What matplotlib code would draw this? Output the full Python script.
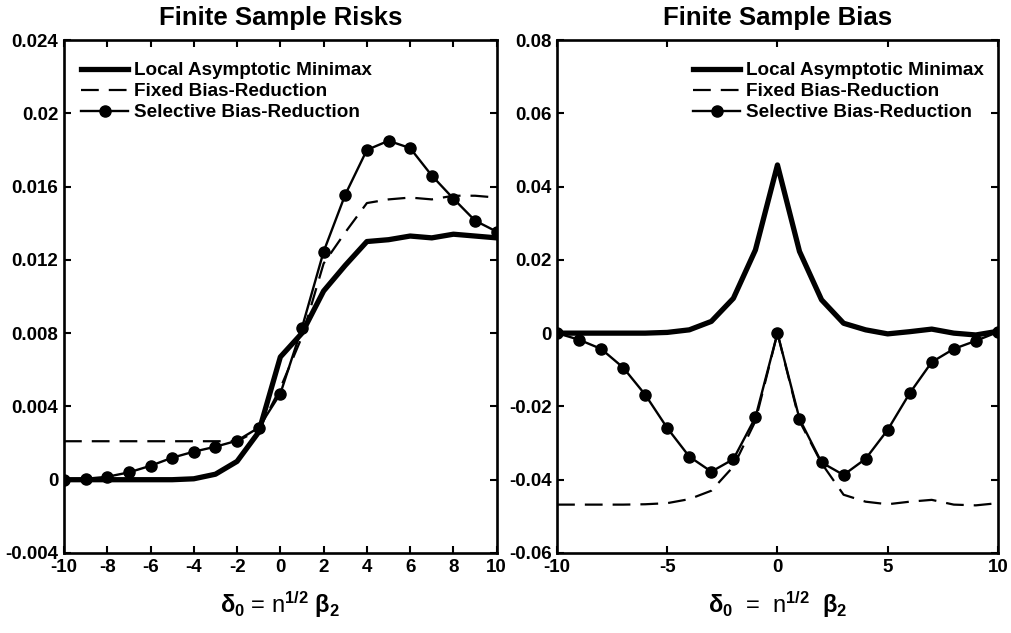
#!/bin/env python3
'''
Finite sample risks and bias of three estimators
'''

import numpy as np
import matplotlib
matplotlib.use("Agg")
import matplotlib.pyplot as plt

plt.rcParams['font.family'] = ['Liberation Sans', 'DejaVu Sans']
plt.rcParams['font.weight'] = 'bold'
plt.rcParams['axes.unicode_minus'] = False
plt.rcParams['mathtext.fontset'] = 'custom'
plt.rcParams['mathtext.rm'] = 'Liberation Sans:bold'
plt.rcParams['mathtext.it'] = 'Liberation Sans:bold'

delta = np.arange(-10, 11)

# Finite sample risks
risk_lam = [0, 0, 0, 0, 0, 0, 0.00005, 0.0003, 0.001, 0.0026, 0.0067,
            0.0080, 0.0103, 0.0117, 0.0130, 0.0131, 0.0133, 0.0132, 0.0134, 0.0133, 0.0132]
risk_fixed = [0.0021, 0.0021, 0.0021, 0.0021, 0.0021, 0.0021, 0.0021, 0.0021, 0.0021, 0.0027, 0.0050,
              0.0078, 0.0118, 0.0135, 0.0151, 0.0153, 0.0154, 0.0153, 0.0155, 0.0155, 0.0154]
risk_select = [0, 0.00005, 0.00016, 0.0004, 0.00076, 0.0012, 0.00153, 0.0018, 0.00213, 0.00284, 0.0047,
               0.0083, 0.01245, 0.01556, 0.0180, 0.0185, 0.0181, 0.0166, 0.01534, 0.01414, 0.01354]

# Finite sample bias
bias_lam = [0, 0, 0, 0, 0, 0.0002, 0.0009, 0.0032, 0.0095, 0.0227, 0.0459,
            0.0223, 0.0091, 0.0027, 0.0009, -0.0002, 0.0004, 0.0011, 0, -0.0005, 0.0005]
bias_fixed = [-0.0468, -0.0468, -0.0468, -0.0468, -0.0467, -0.0464, -0.0453, -0.043, -0.0364, -0.024, 0,
              -0.024, -0.0355, -0.0441, -0.046, -0.0467, -0.046, -0.0455, -0.0468, -0.047, -0.0464]
bias_select = [0, -0.0018, -0.0043, -0.0094, -0.0168, -0.0259, -0.0337, -0.0378, -0.0344, -0.023, 0,
               -0.0234, -0.0353, -0.0387, -0.0343, -0.0264, -0.0164, -0.0079, -0.0043, -0.0021, 0.0003]

labels = ["Local Asymptotic Minimax", "Fixed Bias-Reduction", "Selective Bias-Reduction"]

risk_yticks = [-0.004, 0, 0.004, 0.008, 0.012, 0.016, 0.02, 0.024]
risk_ylabels = ["-0.004", "0", "0.004", "0.008", "0.012", "0.016", "0.02", "0.024"]
bias_yticks = [-0.06, -0.04, -0.02, 0, 0.02, 0.04, 0.06, 0.08]
bias_ylabels = ["-0.06", "-0.04", "-0.02", "0", "0.02", "0.04", "0.06", "0.08"]


def draw_panel(ax, lam, fixed, select):
    '''
    Draws the three curves on one axes
    '''
    ax.plot(delta, lam, color="black", lw=3.8, solid_joinstyle="round", label=labels[0])
    ax.plot(delta, fixed, color="black", lw=1.6, dashes=(8, 4.5), label=labels[1])
    ax.plot(delta, select, color="black", lw=1.7, marker="o", ms=8, label=labels[2])
    ax.set_xlim(-10, 10)
    ax.tick_params(direction="in", top=True, right=True, length=5, width=1.5,
                   labelsize=13.5, pad=4)
    for sp in ax.spines.values():
        sp.set_linewidth(1.9)
    for lab in ax.get_xticklabels() + ax.get_yticklabels():
        lab.set_fontweight("bold")


fig = plt.figure(figsize=(10.11, 6.33), dpi=100)

legend_kw = dict(loc="upper left", frameon=False, fontsize=13.6, handlelength=2.5,
                 handletextpad=0.3, labelspacing=0.2, borderaxespad=0.5)

ax1 = fig.add_axes([0.0633, 0.1264, 0.428, 0.8104])
draw_panel(ax1, risk_lam, risk_fixed, risk_select)
ax1.set_ylim(-0.004, 0.024)
ax1.set_xticks(np.arange(-10, 11, 2))
ax1.set_yticks(risk_yticks)
ax1.set_yticklabels(risk_ylabels, fontweight="bold")
ax1.set_title("Finite Sample Risks", fontsize=18.5, fontweight="bold", pad=11)
ax1.set_xlabel(r"$\delta_0$ = n$^{1/2}$ $\beta_2$", fontsize=17, labelpad=10)
ax1.legend(bbox_to_anchor=(0.0, 0.99), **legend_kw)

ax2 = fig.add_axes([0.551, 0.1264, 0.436, 0.8104])
draw_panel(ax2, bias_lam, bias_fixed, bias_select)
ax2.set_ylim(-0.06, 0.08)
ax2.set_xticks([-10, -5, 0, 5, 10])
ax2.set_yticks(bias_yticks)
ax2.set_yticklabels(bias_ylabels, fontweight="bold")
ax2.set_title("Finite Sample Bias", fontsize=18.5, fontweight="bold", pad=11)
ax2.set_xlabel(r"$\delta_0$  =  n$^{1/2}$  $\beta_2$", fontsize=17, labelpad=10)
ax2.legend(bbox_to_anchor=(0.27, 0.99), **legend_kw)

fig.savefig("out.png", dpi=100)
